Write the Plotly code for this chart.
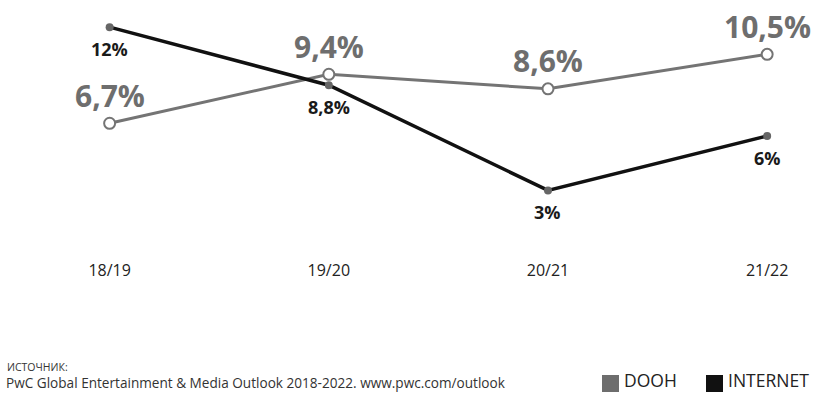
import plotly.graph_objects as go

periods = ["18/19", "19/20", "20/21", "21/22"]
dooh = [6.7, 9.4, 8.6, 10.5]
internet = [12, 8.8, 3, 6]
dooh_labels = ["6,7%", "9,4%", "8,6%", "10,5%"]
internet_labels = ["12%", "8,8%", "3%", "6%"]

W, H = 816, 393
L, R, T, B = 11, 5, 9, 150
PW, PH = W - L - R, H - T - B

def px(x):
    return (x - L) / PW

def py(y):
    return (H - B - y) / PH

GRAY = "#747474"
BLACK = "#111111"
FONT = "Open Sans"

xi = list(range(len(periods)))
fig = go.Figure()
fig.add_trace(go.Scatter(
    x=xi, y=dooh, mode="lines+markers",
    line=dict(color=GRAY, width=3),
    marker=dict(size=11, color="white", line=dict(color=GRAY, width=2)),
    showlegend=False, hoverinfo="skip"))
fig.add_trace(go.Scatter(
    x=xi, y=internet, mode="lines+markers",
    line=dict(color=BLACK, width=3.5),
    marker=dict(size=8, color="#666666"),
    showlegend=False, hoverinfo="skip"))

for x, v, t in zip(xi, dooh, dooh_labels):
    fig.add_annotation(x=x, y=v, text=t, showarrow=False, yanchor="middle",
                       yshift=28, font=dict(family=FONT, size=30, color="#6e6e6e", weight="bold"))
for x, v, t in zip(xi, internet, internet_labels):
    fig.add_annotation(x=x, y=v, text=t, showarrow=False, yanchor="middle",
                       yshift=-22, font=dict(family=FONT, size=18, color="#1a1a1a", weight="bold"))

# footer
fig.add_annotation(xref="paper", yref="paper", x=px(6), y=py(375), xanchor="left", yanchor="bottom",
                   borderpad=0, text="ИСТОЧНИК:", showarrow=False,
                   font=dict(family=FONT, size=10.5, color="#333"))
fig.add_annotation(xref="paper", yref="paper", x=px(5), y=py(393), xanchor="left", yanchor="bottom",
                   borderpad=0, text="PwC Global Entertainment & Media Outlook 2018-2022. www.pwc.com/outlook",
                   showarrow=False, font=dict(family=FONT, size=13.6, color="#333"))

# legend
for (x0, x1, col, txt, tx) in [(602, 619, "#6d6d6d", "DOOH", 623), (706, 723, BLACK, "INTERNET", 727)]:
    fig.add_shape(type="rect", xref="paper", yref="paper", x0=px(x0), x1=px(x1),
                  y0=py(392), y1=py(375), fillcolor=col, line=dict(width=0))
    fig.add_annotation(xref="paper", yref="paper", x=px(tx), y=py(393), xanchor="left", yanchor="bottom",
                       borderpad=0, text=txt, showarrow=False, font=dict(family=FONT, size=17.5, color="#222"))

fig.update_xaxes(range=[-0.45, 3.2], tickvals=xi, ticktext=periods, showgrid=False, zeroline=False,
                 showline=False, ticks="outside", ticklen=13, tickcolor="rgba(0,0,0,0)",
                 tickfont=dict(family=FONT, size=16, color="#222"))
fig.update_yaxes(range=[0.1, 13], visible=False, showgrid=False, zeroline=False)
fig.update_layout(width=W, height=H, margin=dict(l=L, r=R, t=T, b=B),
                  plot_bgcolor="white", paper_bgcolor="white", showlegend=False)
fig.write_html("out.html", config={"displayModeBar": False},
               post_script="document.body.style.margin='0';document.body.style.overflow='hidden';")
